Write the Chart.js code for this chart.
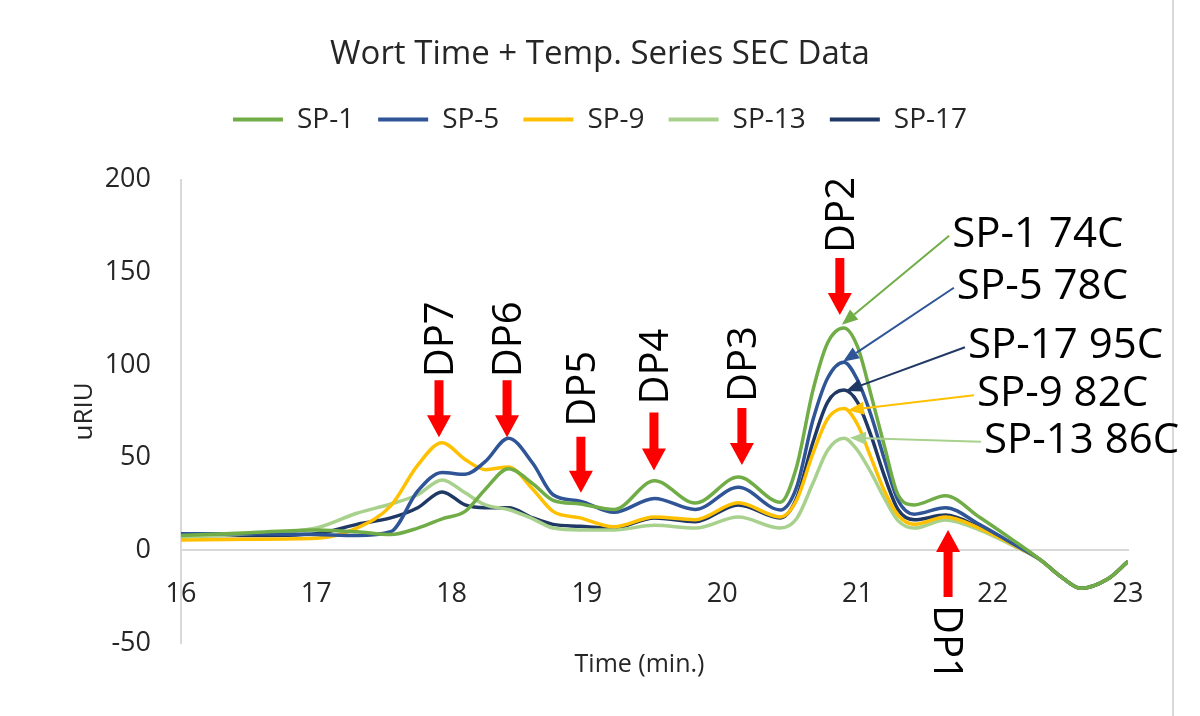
<!DOCTYPE html>
<html>
<head>
<meta charset="utf-8">
<script src="https://cdn.jsdelivr.net/npm/chart.js@4.4.1/dist/chart.umd.min.js"></script>
<style>
  html, body { margin: 0; padding: 0; background: #fff; }
</style>
</head>
<body>
<canvas id="c" width="1200" height="716"></canvas>
<script>
// Wort Time + Temp. Series SEC Data

// ---- datos ----
var times = [16, 16.5, 17, 17.3, 17.55, 17.75, 17.93, 18.1, 18.25, 18.42, 18.6, 18.75, 18.95, 19.2, 19.5, 19.8, 20.12, 20.43, 20.55, 20.67, 20.78, 20.9, 21.0, 21.1, 21.2, 21.3, 21.42, 21.65, 21.9, 22.15, 22.35, 22.5, 22.65, 22.85, 23];
var sp1  = [8, 9.5, 11, 10, 8.5, 12, 17, 21, 33, 44, 36, 27, 25, 22, 37.5, 25.5, 39.5, 26, 45, 86, 112, 120, 110, 84, 56, 30, 24.5, 29.5, 18, 5.5, -5, -14, -20.5, -15.5, -6];
var sp5  = [9, 9, 8.5, 8, 10, 32, 42, 41, 48, 60.5, 47, 30, 26.5, 20.5, 28, 22, 34, 21.8, 34, 70, 93, 101.5, 92, 73, 49, 27, 19.5, 23, 14, 3.5, -5, -14, -20.5, -15.5, -6];
var sp9  = [5.5, 6, 6.5, 12, 24, 46, 58, 49, 43.5, 45, 33, 21, 17.5, 12.7, 18, 16.5, 25.6, 18, 27, 52, 71, 76.5, 68, 50, 32, 19, 14, 18, 12, 3, -5, -14, -20.5, -15.5, -6];
var sp13 = [7, 9, 12, 20, 25, 30, 38, 31, 24.5, 22, 17, 12, 11, 11, 13.5, 12, 18, 12, 17, 36, 54, 60.5, 54, 42, 28, 16, 12, 16.4, 11, 2.5, -5, -14, -20.5, -15.5, -6];
var sp17 = [8, 8, 9, 14, 17.5, 23, 31.5, 24.5, 23, 23, 17.5, 14, 13, 12, 17.5, 15.4, 24.5, 17.5, 28, 58, 80, 86.5, 80, 62, 40, 22, 16.5, 19, 12.5, 3, -5, -14, -20.5, -15.5, -6];

var seriesNames = ['SP-1', 'SP-5', 'SP-9', 'SP-13', 'SP-17'];
var seriesValues = [sp1, sp5, sp9, sp13, sp17];
var seriesColors = ['#70ad47', '#2f5597', '#ffc000', '#a9d18e', '#203864'];

var xTicks = [16, 17, 18, 19, 20, 21, 22, 23];
var yTicks = [-50, 0, 50, 100, 150, 200];

// ---- anotaciones (coordenadas en unidades del gráfico) ----
var dpMarks = [
  { text: 'DP7', t: 17.907, tip: 61, len: 57, gap: 3 },
  { text: 'DP6', t: 18.41, tip: 61, len: 57, gap: 3 },
  { text: 'DP5', t: 18.956, tip: 31, len: 56, gap: 10 },
  { text: 'DP4', t: 19.496, tip: 43, len: 58, gap: 8 },
  { text: 'DP3', t: 20.146, tip: 46, len: 57, gap: 6 },
  { text: 'DP2', t: 20.87, tip: 127, len: 57, gap: 5 },
  { text: 'DP1', t: 21.67, tip: 11, len: 67, gap: 8, up: true }
];
var spLabels = [
  { text: 'SP-1 74C', color: '#70ad47', tipT: 20.885, tipV: 121.7, t: 21.70, v: 171.9 },
  { text: 'SP-5 78C', color: '#2f5597', tipT: 20.893, tipV: 101.7, t: 21.735, v: 143.8 },
  { text: 'SP-17 95C', color: '#203864', tipT: 20.915, tipV: 86.0, t: 21.817, v: 111.7 },
  { text: 'SP-9 82C', color: '#ffc000', tipT: 20.93, tipV: 75.6, t: 21.883, v: 85.8 },
  { text: 'SP-13 86C', color: '#a9d18e', tipT: 20.945, tipV: 60.7, t: 21.935, v: 60.7 }
];

var FONT = '"Open Sans", "Liberation Sans", sans-serif';

function downUpArrow(ctx, x, tipY, len, dir) {
  var head = 22, hw = 12, sw = 4.5;
  var base = tipY - dir * head, end = tipY - dir * len;
  ctx.beginPath();
  ctx.moveTo(x, tipY);
  ctx.lineTo(x - hw, base);
  ctx.lineTo(x - sw, base);
  ctx.lineTo(x - sw, end);
  ctx.lineTo(x + sw, end);
  ctx.lineTo(x + sw, base);
  ctx.lineTo(x + hw, base);
  ctx.closePath();
  ctx.fill();
  return end;
}

var annotations = {
  id: 'annotations',
  afterDatasetsDraw: function (chart) {
    var ctx = chart.ctx, xs = chart.scales.x, ys = chart.scales.y;
    ctx.save();

    // flechas rojas DP
    var dpSize = 40, dpCap = dpSize * 0.714;
    dpMarks.forEach(function (m) {
      var x = xs.getPixelForValue(m.t);
      var tipY = ys.getPixelForValue(m.tip);
      var dir = m.up ? -1 : 1;
      ctx.fillStyle = '#ff0000';
      var end = downUpArrow(ctx, x, tipY, m.len, dir);
      ctx.save();
      ctx.fillStyle = '#000';
      ctx.font = dpSize + 'px ' + FONT;
      ctx.textAlign = 'left';
      ctx.textBaseline = 'alphabetic';
      if (m.up) {
        ctx.translate(x, end + m.gap);
        ctx.rotate(Math.PI / 2);
      } else {
        ctx.translate(x, end - m.gap);
        ctx.rotate(-Math.PI / 2);
      }
      ctx.fillText(m.text, 0, dpCap / 2);
      ctx.restore();
    });

    // etiquetas de temperatura con flecha
    var spSize = 42, spCap = spSize * 0.714;
    spLabels.forEach(function (l) {
      var tx = xs.getPixelForValue(l.t), ty = ys.getPixelForValue(l.v);
      var px = xs.getPixelForValue(l.tipT), py = ys.getPixelForValue(l.tipV);
      var sx = tx - 3, sy = ty + 4;
      var dx = px - sx, dy = py - sy, d = Math.sqrt(dx * dx + dy * dy);
      var ux = dx / d, uy = dy / d;
      var bx = px - ux * 16, by = py - uy * 16;
      ctx.strokeStyle = l.color;
      ctx.fillStyle = l.color;
      ctx.lineWidth = 2;
      ctx.beginPath();
      ctx.moveTo(sx, sy);
      ctx.lineTo(bx, by);
      ctx.stroke();
      ctx.beginPath();
      ctx.moveTo(px, py);
      ctx.lineTo(bx - uy * 6.5, by + ux * 6.5);
      ctx.lineTo(bx + uy * 6.5, by - ux * 6.5);
      ctx.closePath();
      ctx.fill();

      ctx.fillStyle = '#000';
      ctx.font = spSize + 'px ' + FONT;
      ctx.textAlign = 'left';
      ctx.textBaseline = 'alphabetic';
      ctx.fillText(l.text, tx, ty + spCap / 2);
    });

    // título del eje X
    ctx.fillStyle = '#262626';
    ctx.font = '25px ' + FONT;
    ctx.textAlign = 'center';
    ctx.textBaseline = 'middle';
    ctx.fillText('Time (min.)', (chart.chartArea.left + chart.chartArea.right) / 2 - 15, chart.chartArea.bottom + 22);
    ctx.restore();
  }
};

var frame = {
  id: 'frame',
  beforeDraw: function (chart) {
    var ctx = chart.ctx;
    ctx.save();
    ctx.fillStyle = '#fff';
    ctx.fillRect(0, 0, chart.width, chart.height);
    ctx.strokeStyle = '#d9d9d9';
    ctx.lineWidth = 2;
    ctx.beginPath();
    ctx.moveTo(1173, 0);
    ctx.lineTo(1173, chart.height);
    ctx.stroke();
    ctx.restore();
  }
};

// espacio extra bajo la leyenda
var legendGap = {
  id: 'legendGap',
  beforeInit: function (chart) {
    var fit = chart.legend.fit;
    chart.legend.fit = function () {
      fit.call(this);
      this.height += 36;
    };
  }
};

var datasets = seriesNames.map(function (name, i) {
  return {
    label: name,
    data: times.map(function (t, j) { return { x: t, y: seriesValues[i][j] }; }),
    borderColor: seriesColors[i],
    backgroundColor: seriesColors[i],
    borderWidth: 3.5,
    pointRadius: 0,
    fill: false,
    cubicInterpolationMode: 'monotone'
  };
});

new Chart(document.getElementById('c'), {
  type: 'line',
  data: { datasets: datasets },
  options: {
    responsive: false,
    devicePixelRatio: 1,
    animation: false,
    layout: { padding: { top: 0, left: 0, right: 0, bottom: 73 } },
    plugins: {
      title: {
        display: true,
        text: 'Wort Time + Temp. Series SEC Data',
        color: '#262626',
        font: { family: FONT, size: 33, weight: 'normal' },
        padding: { top: 35, bottom: 7 }
      },
      legend: {
        position: 'top',
        labels: {
          color: '#262626',
          font: { family: FONT, size: 28 },
          boxWidth: 50,
          boxHeight: 4,
          padding: 24,
          generateLabels: function (chart) {
            var items = Chart.defaults.plugins.legend.labels.generateLabels(chart);
            items.forEach(function (it) { it.lineWidth = 0; it.fillStyle = it.strokeStyle; });
            return items;
          }
        }
      },
      tooltip: { enabled: false }
    },
    scales: {
      x: {
        type: 'linear',
        position: { y: 0 },
        min: xTicks[0],
        max: xTicks[xTicks.length - 1],
        ticks: {
          stepSize: 1,
          color: '#262626',
          font: { family: FONT, size: 27 },
          padding: 28
        },
        grid: { display: false, drawTicks: false },
        border: { display: true, color: '#d9d9d9', width: 2 }
      },
      y: {
        position: 'left',
        min: yTicks[0],
        max: yTicks[yTicks.length - 1],
        afterFit: function (scale) { scale.width = 181; },
        ticks: {
          stepSize: 50,
          color: '#262626',
          font: { family: FONT, size: 27 },
          padding: 30
        },
        grid: { display: false, drawTicks: false },
        border: { display: true, color: '#d9d9d9', width: 2 },
        title: {
          display: true,
          text: 'uRIU',
          color: '#262626',
          font: { family: FONT, size: 26 },
          padding: { top: 69, bottom: 0 }
        }
      },
      // eje vacío a la derecha: reserva el margen derecho del área de trazado
      yRight: {
        position: 'right',
        afterFit: function (scale) { scale.width = 72; },
        ticks: { display: false },
        grid: { display: false, drawTicks: false },
        border: { display: false }
      }
    }
  },
  plugins: [frame, legendGap, annotations]
});
</script>
</body>
</html>
